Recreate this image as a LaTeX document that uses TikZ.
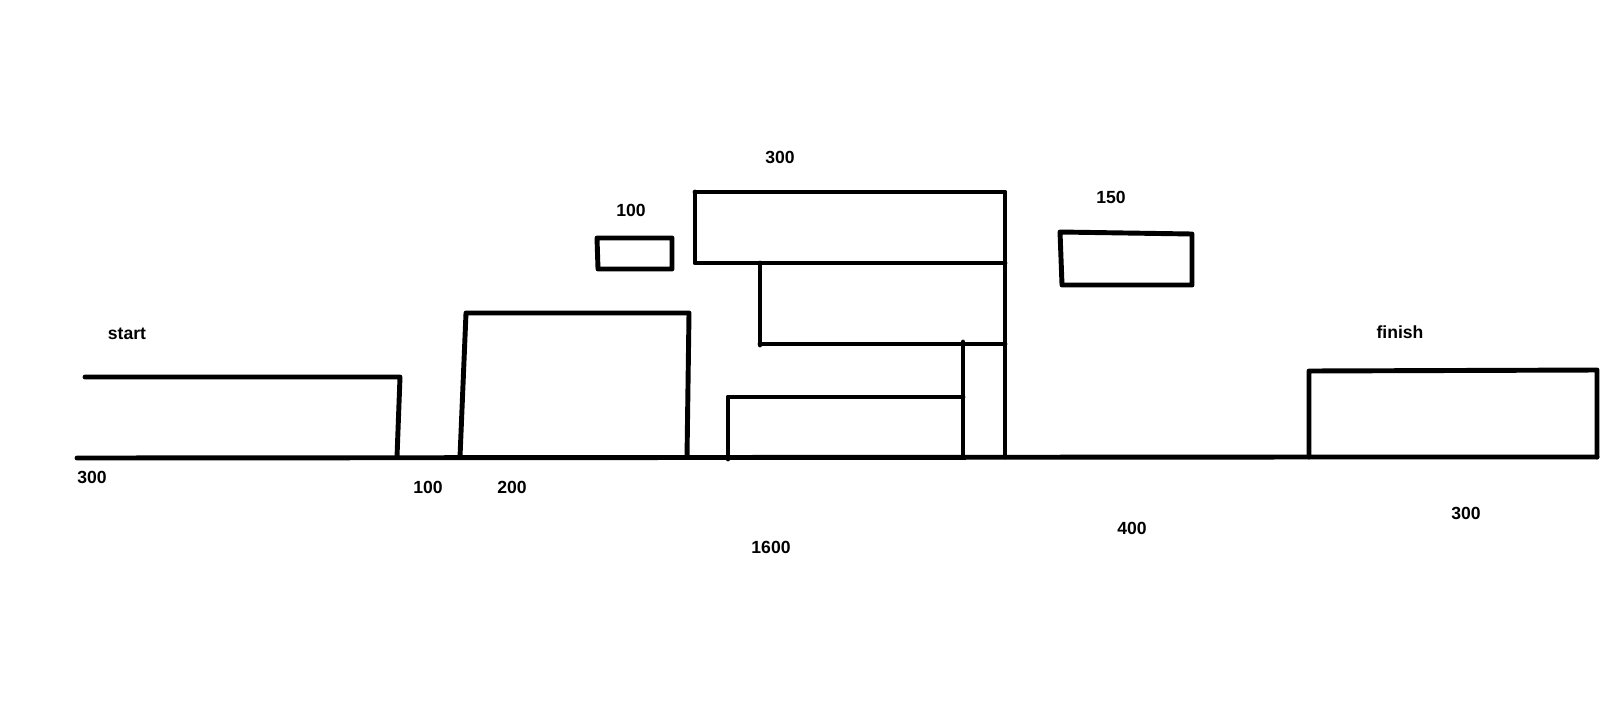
\documentclass[tikz,border=0pt]{standalone}
\usepackage{fontspec}
\setmainfont{Liberation Sans}
\tikzset{wall/.style={line width=1.4pt,line cap=round,line join=round}}
\tikzset{lbl/.style={inner sep=0pt,font=\bfseries\fontsize{5}{6}\selectfont}}
\begin{document}
\begin{tikzpicture}[x={(0.01cm,0)},y={(0,-0.01cm)}]
\useasboundingbox (0,0) rectangle (1601,700);
% ground and platforms
\draw[wall](77,458)--(1309,457)--(1597,457);
\draw[wall](85,377)--(400,377)--(397,457);
\draw[wall](460,457)--(466,313)--(689,313)--(687,457);
\draw[wall](597,238)--(672,238)--(672,269)--(598,269)--cycle;
\draw[wall](695,192)--(1005,192)--(1005,457);\draw[wall](695,192)--(695,263)--(1005,263);
\draw[wall](760,263)--(760,345)(760,344)--(1005,344);\draw[wall](963,342)--(963,457);
\draw[wall](728,459)--(728,397)--(963,397);
\draw[wall](1060,232)--(1192,234)--(1192,285)--(1062,285)--cycle;
\draw[wall](1309,457)--(1309,371)--(1597,370)--(1597,457);
% labels
\node[lbl](start)at(127,334){start};\node[lbl](finish)at(1400,332){finish};
\node[lbl](wA)at(92,477){300};\node[lbl](gapA)at(428,487){100};\node[lbl](wB)at(512,487){200};
\node[lbl](wC)at(631,210){100};\node[lbl](wD)at(780,157){300};\node[lbl](wE)at(1111,197){150};
\node[lbl](wF)at(771,547){1600};\node[lbl](wG)at(1132,528){400};\node[lbl](wH)at(1466,513){300};
\end{tikzpicture}
\end{document}
